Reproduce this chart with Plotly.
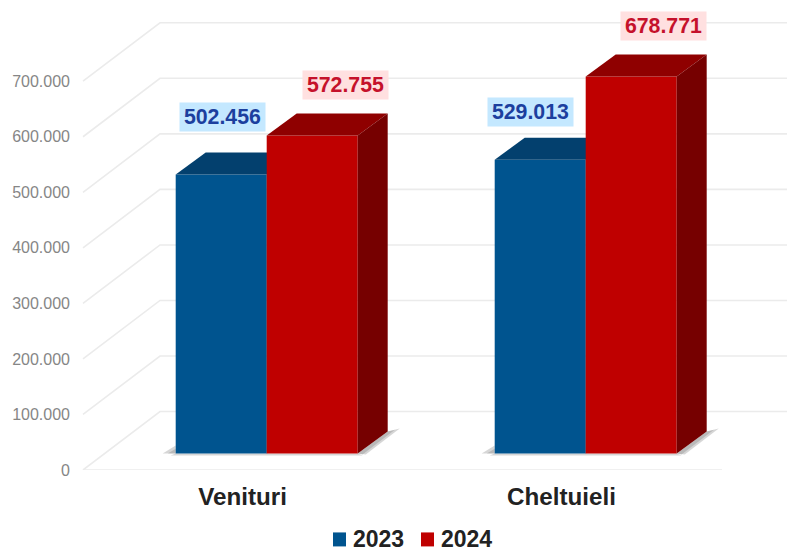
import plotly.graph_objects as go

categories = ["Venituri", "Cheltuieli"]
years = ["2023", "2024"]
values_2023 = [502456, 529013]
values_2024 = [572755, 678771]
tick_values = [0, 100000, 200000, 300000, 400000, 500000, 600000, 700000]

W, H = 787, 548
ML, MB = 71, 77.5
X_PX = 319.0      # pixels per category
Y_PX = 55.6 / 100000  # pixels per value unit
CAT0_PX = 242.5
x_range = [(ML - CAT0_PX) / X_PX, (W - CAT0_PX) / X_PX]
y_range = [0, (H - MB) / Y_PX]

px_x = lambda p: p / X_PX
px_y = lambda p: p / Y_PX

# 3D construction, in axis units
FLOOR_L, FLOOR_R = -0.5, 1.503
WALL_DX, WALL_DY = px_x(77), px_y(58.5)
BAR_W = px_x(91)
BAR_SHIFT_X = px_x(24.2)
BAR_BASE = px_y(16.5)
BAR_DX, BAR_DY = px_x(30), px_y(22)

BLUE, BLUE_TOP, BLUE_SIDE = "#00548f", "#03406e", "#023a63"
RED, RED_TOP, RED_SIDE = "#bf0000", "#8f0000", "#760000"
GRID = "#ebebeb"
SHADOW = "rgba(120,120,120,0.30)"
FONT = "Liberation Sans"

fig = go.Figure()

# walls / floor on the base layer
gx, gy = [], []
for t in tick_values:
    gx += [FLOOR_L, FLOOR_L + WALL_DX, x_range[1], None]
    gy += [t, t + WALL_DY, t + WALL_DY, None]
gx += [FLOOR_L, FLOOR_R]
gy += [0, 0]
fig.add_trace(go.Scatter(x=gx, y=gy, mode="lines", line=dict(color=GRID, width=1.6),
                         showlegend=False, hoverinfo="skip", cliponaxis=False))


def poly(xs, ys, color, xa, ya):
    fig.add_trace(go.Scatter(x=xs + [xs[0]], y=ys + [ys[0]], mode="lines", fill="toself",
                             fillcolor=color, line=dict(width=0, color=color),
                             showlegend=False, hoverinfo="skip", xaxis=xa, yaxis=ya))


# floor shadows under each bar group (two passes give a softer edge)
for i in range(len(categories)):
    x0 = i + BAR_SHIFT_X - BAR_W
    x1 = i + BAR_SHIFT_X + BAR_W
    for grow in (1.0, 0.6):
        poly([x0 - px_x(13 * grow), x0, x0], [BAR_BASE, BAR_BASE + px_y(8 * grow), BAR_BASE],
             SHADOW, "x", "y")
        poly([x1, x1 + BAR_DX, x1 + BAR_DX + px_x(12 * grow), x1 + px_x(8 * grow)],
             [BAR_BASE, BAR_BASE + BAR_DY, BAR_BASE + BAR_DY + px_y(3 * grow), BAR_BASE - px_y(1)],
             SHADOW, "x", "y")
    poly([x0 - px_x(5), x1 + px_x(5), x1, x0],
         [BAR_BASE - px_y(2), BAR_BASE - px_y(2), BAR_BASE, BAR_BASE],
         "rgba(120,120,120,0.3)", "x", "y")


def bar3d(name, vals, offset, front, top, side, xa, ya):
    fig.add_trace(go.Bar(name=name, x=list(range(len(vals))), y=vals, base=BAR_BASE,
                         width=BAR_W, offset=offset, marker=dict(color=front, line=dict(width=0)),
                         xaxis=xa, yaxis=ya, hoverinfo="skip", showlegend=False))
    for i, v in enumerate(vals):
        x0 = i + offset
        x1 = x0 + BAR_W
        yt = BAR_BASE + v
        poly([x0, x0 + BAR_DX, x1 + BAR_DX, x1], [yt, yt + BAR_DY, yt + BAR_DY, yt], top, xa, ya)
        poly([x1, x1 + BAR_DX, x1 + BAR_DX, x1],
             [BAR_BASE, BAR_BASE + BAR_DY, yt + BAR_DY, yt], side, xa, ya)


bar3d(years[0], values_2023, BAR_SHIFT_X - BAR_W, BLUE, BLUE_TOP, BLUE_SIDE, "x2", "y2")
bar3d(years[1], values_2024, BAR_SHIFT_X, RED, RED_TOP, RED_SIDE, "x3", "y3")

fmt = lambda v: f"{v:,}".replace(",", ".")
label_shift_2023 = [(47, 57), (36, 48)]
label_shift_2024 = [(78.5, 50), (77.5, 51)]
annotations = []
for vals, offs, bg, fg, shifts in [
    (values_2023, BAR_SHIFT_X - BAR_W, "#c4e8ff", "#1c3f9e", label_shift_2023),
    (values_2024, BAR_SHIFT_X, "#ffe0e0", "#c5112b", label_shift_2024),
]:
    for i, v in enumerate(vals):
        annotations.append(dict(
            x=i + offs, y=BAR_BASE + v, xref="x", yref="y", xanchor="center", yanchor="middle",
            xshift=shifts[i][0], yshift=shifts[i][1], text=fmt(v), showarrow=False,
            width=85, height=28, bgcolor=bg, borderpad=0,
            font=dict(family=FONT, size=21.3, color=fg, weight="bold")))

# legend row: swatch + text, placed in paper coordinates
LEGEND_Y_PX = 540
shapes = []
for year, color, sw_left, text_left in [(years[0], BLUE, 333, 352), (years[1], RED, 421, 440)]:
    shapes.append(dict(type="rect", xref="paper", yref="paper", layer="above",
                       x0=(sw_left - ML) / (W - ML), x1=(sw_left + 13 - ML) / (W - ML),
                       y0=1 - (LEGEND_Y_PX + 7) / (H - MB), y1=1 - (LEGEND_Y_PX - 7) / (H - MB),
                       fillcolor=color, line=dict(width=0)))
    annotations.append(dict(
        x=(text_left - ML) / (W - ML), y=1 - LEGEND_Y_PX / (H - MB), xref="paper", yref="paper",
        xanchor="left", yanchor="middle", text=year, showarrow=False, borderpad=0,
        font=dict(family=FONT, size=23, color="#222222", weight="bold")))

fig.update_layout(
    width=W, height=H, autosize=False,
    margin=dict(l=ML, r=0, t=0, b=MB, pad=0, autoexpand=False),
    paper_bgcolor="white", plot_bgcolor="white",
    separators=",.",
    barmode="overlay",
    showlegend=False,
    annotations=annotations,
    shapes=shapes,
    xaxis=dict(range=x_range, tickmode="array", tickvals=list(range(len(categories))),
               ticktext=categories, showgrid=False, zeroline=False, showline=False, ticks="",
               ticklabelstandoff=10, automargin=False,
               tickfont=dict(family=FONT, size=24.2, color="#222222", weight="bold")),
    yaxis=dict(range=y_range, tickmode="array", tickvals=tick_values, tickformat=",d",
               showgrid=False, zeroline=False, showline=False, ticks="", automargin=False,
               tickfont=dict(family=FONT, size=16, color="#868686")),
    xaxis2=dict(range=x_range, overlaying="x", visible=False),
    yaxis2=dict(range=y_range, overlaying="y", visible=False),
    xaxis3=dict(range=x_range, overlaying="x", visible=False),
    yaxis3=dict(range=y_range, overlaying="y", visible=False),
)

fig.write_html("out.html", config=dict(displayModeBar=False),
               post_script="document.body.style.margin='0';")
